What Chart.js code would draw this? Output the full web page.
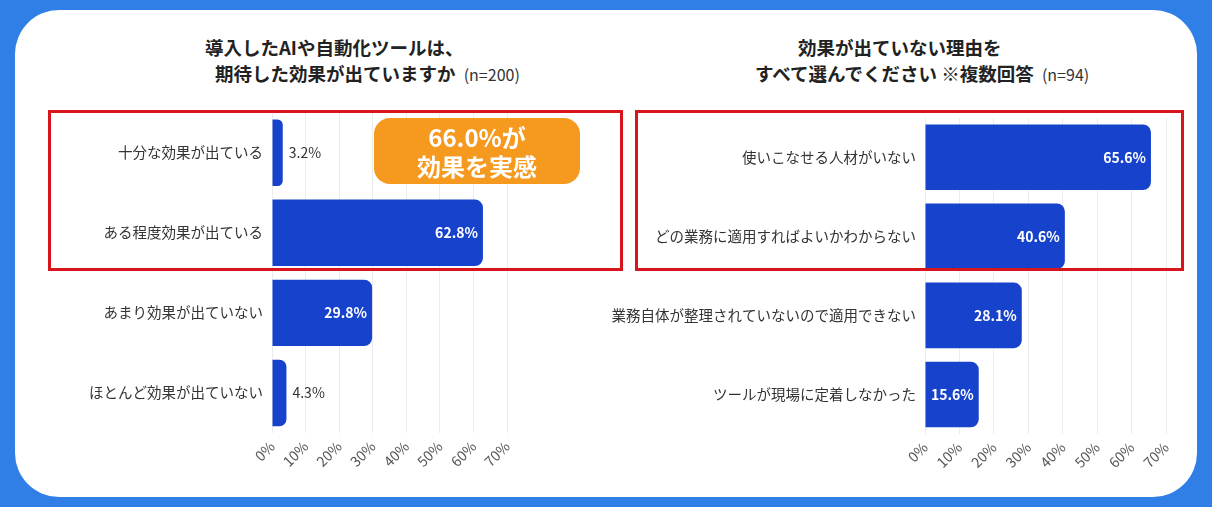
<!DOCTYPE html>
<html lang="ja">
<head>
<meta charset="utf-8">
<script src="https://cdn.jsdelivr.net/npm/chart.js@4.4.1/dist/chart.umd.min.js"></script>
<style>
  html, body { margin: 0; padding: 0; }
  body {
    width: 1212px; height: 507px; overflow: hidden;
    background: #2f7fe6; position: relative;
    font-family: "Noto Sans CJK JP", "Noto Sans", sans-serif;
  }
  .card {
    position: absolute; left: 15px; top: 10px; width: 1182px; height: 487px;
    background: #fff; border-radius: 44px;
  }
  .t {
    position: absolute; white-space: nowrap; font-weight: 700; font-size: 18.5px;
    color: #222; line-height: 22px;
  }
  .t small { font-weight: 400; font-size: 16px; color: #333; margin-left: 4px; }
  .box { position: absolute; border: 3px solid #d8151c; box-sizing: border-box; pointer-events: none; }
  .callout {
    position: absolute; left: 374px; top: 118px; width: 206px; height: 66px;
    background: #f5991f; border-radius: 16px; color: #fff; font-weight: 700;
    font-size: 24px; line-height: 29px; text-align: center; padding-top: 4px; box-sizing: border-box;
  }
  canvas { position: absolute; }
</style>
</head>
<body>
<div class="card"></div>

<div class="t" style="left:205px; top:36px;">導入したAIや自動化ツールは、</div>
<div class="t" style="left:215px; top:62px;">期待した効果が出ていますか <small>(n=200)</small></div>
<div class="t" style="left:798px; top:36px;">効果が出ていない理由を</div>
<div class="t" style="left:755px; top:62px;">すべて選んでください ※複数回答 <small>(n=94)</small></div>

<div style="position:absolute; left:40px; top:103px; width:484px; height:370px;"><canvas id="chart1"></canvas></div>
<div style="position:absolute; left:600px; top:108px; width:583px; height:366px;"><canvas id="chart2"></canvas></div>

<div class="box" style="left:48px; top:110px; width:575px; height:161px;"></div>
<div class="box" style="left:635px; top:110px; width:549px; height:161px;"></div>
<div class="callout">66.0%が<br>効果を実感</div>

<script>
// left chart: 期待した効果が出ているか (n=200)
var effectLabels = ["十分な効果が出ている", "ある程度効果が出ている", "あまり効果が出ていない", "ほとんど効果が出ていない"];
var effectValues = [3.2, 62.8, 29.8, 4.3];

// right chart: 効果が出ていない理由 (n=94)
var reasonLabels = ["使いこなせる人材がいない", "どの業務に適用すればよいかわからない", "業務自体が整理されていないので適用できない", "ツールが現場に定着しなかった"];
var reasonValues = [65.6, 40.6, 28.1, 15.6];

var tickValues = [0, 10, 20, 30, 40, 50, 60, 70];

var FONT = '"Noto Sans CJK JP", "Noto Sans", sans-serif';
var BAR_BLUE = "rgb(23, 66, 204)";

// value labels: inside (white bold) for big bars, outside for small ones
var valueLabels = {
  id: "valueLabels",
  afterDatasetsDraw: function (chart) {
    var ctx = chart.ctx;
    var meta = chart.getDatasetMeta(0);
    var data = chart.data.datasets[0].data;
    ctx.save();
    ctx.textBaseline = "middle";
    meta.data.forEach(function (bar, i) {
      var v = data[i];
      var txt = v.toFixed(1) + "%";
      if (v >= 10) {
        ctx.font = "700 14px " + FONT;
        ctx.fillStyle = "#fff";
        ctx.textAlign = "right";
        ctx.fillText(txt, bar.x - 5, bar.y);
      } else {
        ctx.font = "400 14px " + FONT;
        ctx.fillStyle = "#333";
        ctx.textAlign = "left";
        ctx.fillText(txt, bar.x + 6, bar.y);
      }
    });
    ctx.restore();
  },
};

function makeChart(id, labels, values, yWidth) {
  return new Chart(id, {
    type: "bar",
    data: {
      labels: labels,
      datasets: [
        {
          data: values,
          backgroundColor: BAR_BLUE,
          borderRadius: 8,
          borderSkipped: "start",
          barPercentage: 0.83,
          categoryPercentage: 1,
        },
      ],
    },
    options: {
      indexAxis: "y",
      maintainAspectRatio: false,
      animation: false,
      layout: { padding: { top: 8, right: 0 } },
      plugins: {
        legend: { display: false },
        tooltip: { enabled: false },
      },
      scales: {
        x: {
          min: 0,
          max: 70,
          afterBuildTicks: function (scale) {
            scale.ticks = tickValues.map(function (v) { return { value: v }; });
          },
          afterFit: function (scale) { scale.height = 40; },
          grid: { color: "#ececec", drawTicks: false },
          border: { display: false },
          ticks: {
            minRotation: 45,
            maxRotation: 45,
            padding: 5,
            color: "#555",
            font: { family: FONT, size: 14 },
            callback: function (v) { return v + "%"; },
          },
        },
        y: {
          afterFit: function (scale) { scale.width = yWidth; },
          grid: { display: false },
          border: { display: false },
          ticks: {
            padding: 1,
            color: "#333",
            font: { family: FONT, size: 14.5 },
          },
        },
      },
    },
    plugins: [valueLabels],
  });
}

makeChart("chart1", effectLabels, effectValues, 232);
makeChart("chart2", reasonLabels, reasonValues, 325);
</script>
</body>
</html>
